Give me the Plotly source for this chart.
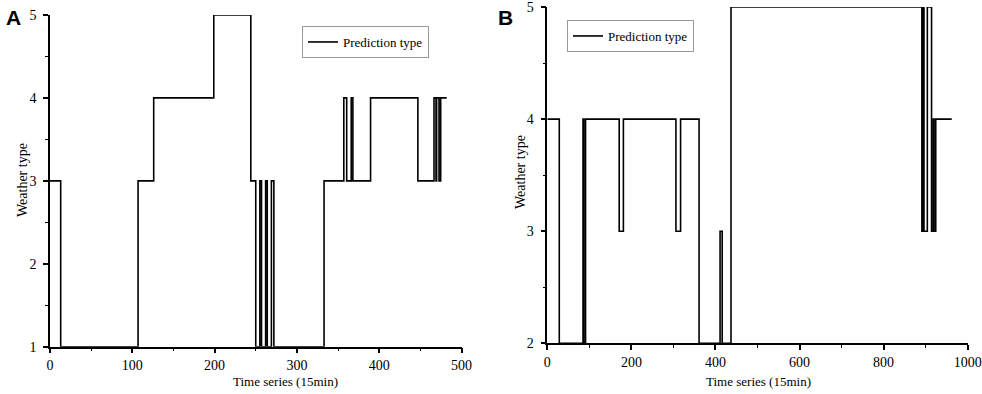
import plotly.graph_objects as go

# Panel A: change points (time index, weather type)
a_time = [0, 13, 107, 126, 199, 244, 250, 255, 257, 262, 264, 269, 272, 333, 357, 360.5, 366, 368, 389.5, 447, 466.6, 469, 469.8, 472.7, 474.7, 482]
a_type = [3, 1, 3, 4, 5, 3, 1, 3, 1, 3, 1, 3, 1, 3, 4, 3, 4, 3, 4, 3, 4, 3, 4, 3, 4, 4]

# Panel B: change points (time index, weather type)
b_time = [0, 28.5, 85, 87, 91, 171, 181, 306, 317, 361, 411, 416, 437, 891, 893, 896, 904, 914, 918, 920, 924, 962]
b_type = [4, 2, 4, 2, 4, 3, 4, 3, 4, 2, 3, 2, 5, 3, 5, 3, 5, 3, 4, 3, 4, 4]

a_xticks = [0, 100, 200, 300, 400, 500]
a_yticks = [1, 2, 3, 4, 5]
b_xticks = [0, 200, 400, 600, 800, 1000]
b_yticks = [2, 3, 4, 5]

SERIF = "Liberation Serif, Times New Roman, serif"
W, H = 982, 394

fig = go.Figure()
fig.add_trace(go.Scatter(x=a_time, y=a_type, mode="lines", line=dict(color="black", width=1.6, shape="hv"),
                         name="Prediction type", xaxis="x", yaxis="y", legend="legend"))
fig.add_trace(go.Scatter(x=b_time, y=b_type, mode="lines", line=dict(color="black", width=1.6, shape="hv"),
                         name="Prediction type", xaxis="x2", yaxis="y2", legend="legend2"))

def ax(**kw):
    d = dict(showline=True, linecolor="black", linewidth=1.5, ticks="outside", ticklen=5, tickwidth=1.5,
             tickcolor="black", showgrid=False, zeroline=False, mirror=False, automargin=False,
             tickfont=dict(family=SERIF, size=14, color="black"), ticklabeloverflow="allow",
             minor=dict(ticks="outside", ticklen=3, tickwidth=1.2, tickcolor="black", showgrid=False))
    d.update(kw)
    return d

def txt(s, x, y, size=13, angle=0):
    return dict(text=s, x=x / W, y=1 - y / H, xref="paper", yref="paper", xanchor="center", yanchor="middle",
                showarrow=False, textangle=angle, font=dict(family=SERIF, size=size, color="black"))

fig.update_layout(
    width=W, height=H, margin=dict(l=0, r=0, t=0, b=0),
    paper_bgcolor="white", plot_bgcolor="white",
    xaxis=ax(domain=[50 / W, 461.5 / W], range=[0, 500], tickvals=a_xticks, minor_dtick=50, anchor="y"),
    yaxis=ax(domain=[1 - 346.7 / H, 1 - 15 / H], range=[1, 5], tickvals=a_yticks, minor_dtick=0.5, anchor="x",
             ticklabelstandoff=4),
    xaxis2=ax(domain=[547.3 / W, 967.7 / W], range=[0, 1000], tickvals=b_xticks, minor_dtick=100, anchor="y2"),
    yaxis2=ax(domain=[1 - 343.3 / H, 1 - 7 / H], range=[2, 5], tickvals=b_yticks, minor_dtick=0.5, anchor="x2",
              ticklabelstandoff=4),
    legend=dict(x=302 / W, y=1 - 26 / H, xanchor="left", yanchor="top", bordercolor="#999999", borderwidth=1,
                bgcolor="white", font=dict(family=SERIF, size=13, color="black"), itemwidth=30),
    legend2=dict(x=567 / W, y=1 - 20 / H, xanchor="left", yanchor="top", bordercolor="#999999", borderwidth=1,
                 bgcolor="white", font=dict(family=SERIF, size=13, color="black"), itemwidth=30),
    showlegend=True,
    annotations=[
        dict(text="<b>A</b>", x=4 / W, y=1 - 4 / H, xref="paper", yref="paper", xanchor="left", yanchor="top",
             showarrow=False, font=dict(family="Liberation Sans, Arial, sans-serif", size=21, color="black")),
        dict(text="<b>B</b>", x=496 / W, y=1 - 4 / H, xref="paper", yref="paper", xanchor="left", yanchor="top",
             showarrow=False, font=dict(family="Liberation Sans, Arial, sans-serif", size=21, color="black")),
        txt("Time series (15min)", 285, 381),
        txt("Time series (15min)", 758, 381),
        txt("Weather type", 22, 180, size=14, angle=-90),
        txt("Weather type", 520, 172, size=14, angle=-90),
    ],
)

fig.write_html("out.html", config={"displayModeBar": False}, post_script="document.body.style.margin='0px';")
